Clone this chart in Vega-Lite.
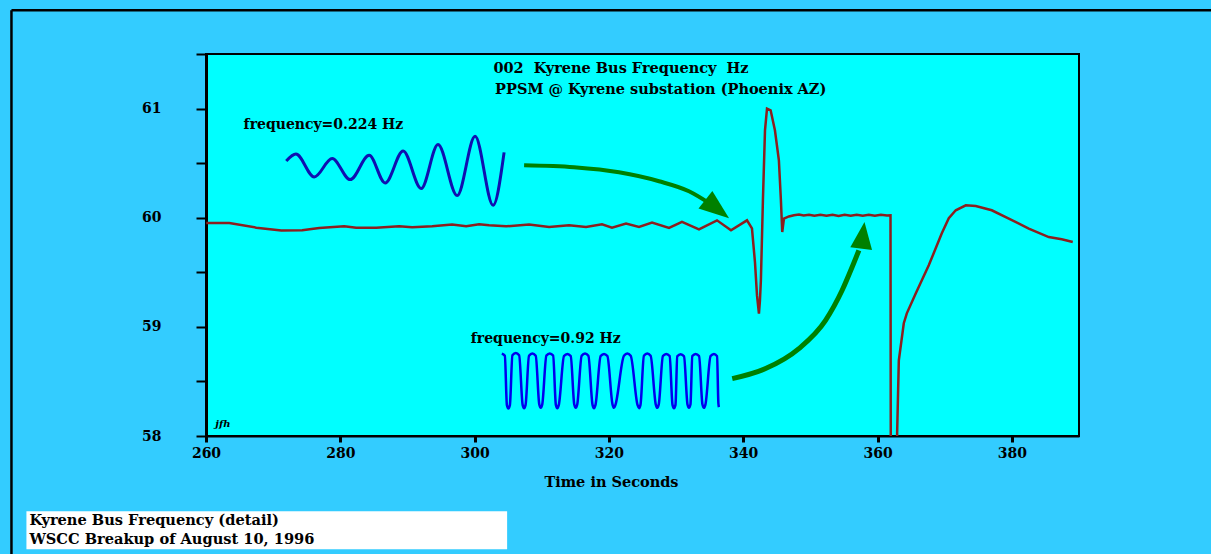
{
  "$schema": "https://vega.github.io/schema/vega-lite/v6.json",
  "width": 873,
  "height": 382,
  "autosize": {"type": "none"},
  "padding": {"left": 206, "top": 54, "right": 132, "bottom": 118},
  "background": "#33ccff",
  "config": {
    "view": {"fill": "#00ffff", "stroke": "#000000", "strokeWidth": 2},
    "font": "DejaVu Serif"
  },
  "datasets": {
    "frame": [
      {"x": 231.03, "y": 61.901, "x2": 231.03, "y2": 56.5},
      {"x": 231.03, "y": 61.901, "x2": 420, "y2": 61.901}
    ],
    "box": [
      {"x": 233.26, "y": 57.31, "x2": 304.84, "y2": 56.962}
    ],
    "trace": [
      {"x": 260.04, "y": 59.952}, {"x": 263.47, "y": 59.952}, {"x": 267.49, "y": 59.909},
      {"x": 271.21, "y": 59.882}, {"x": 274.33, "y": 59.885}, {"x": 276.86, "y": 59.906},
      {"x": 280.58, "y": 59.921}, {"x": 282.37, "y": 59.909}, {"x": 285.34, "y": 59.909},
      {"x": 288.76, "y": 59.921}, {"x": 290.70, "y": 59.912}, {"x": 293.68, "y": 59.921},
      {"x": 296.65, "y": 59.937}, {"x": 298.74, "y": 59.921}, {"x": 300.67, "y": 59.94},
      {"x": 302.16, "y": 59.931}, {"x": 304.69, "y": 59.921}, {"x": 308.11, "y": 59.937},
      {"x": 311.09, "y": 59.915}, {"x": 314.06, "y": 59.931}, {"x": 316.59, "y": 59.915},
      {"x": 318.97, "y": 59.94}, {"x": 320.46, "y": 59.909}, {"x": 322.55, "y": 59.946},
      {"x": 324.48, "y": 59.915}, {"x": 326.42, "y": 59.955}, {"x": 328.95, "y": 59.906},
      {"x": 330.88, "y": 59.961}, {"x": 333.41, "y": 59.894}, {"x": 336.09, "y": 59.976},
      {"x": 338.18, "y": 59.885}, {"x": 340.56, "y": 59.976}, {"x": 341.30, "y": 59.903},
      {"x": 341.75, "y": 59.591}, {"x": 342.05, "y": 59.288}, {"x": 342.34, "y": 59.121},
      {"x": 342.49, "y": 59.243}, {"x": 342.63, "y": 59.427}, {"x": 342.93, "y": 60.158},
      {"x": 343.24, "y": 60.8}, {"x": 343.54, "y": 61.0}, {"x": 344.08, "y": 60.984},
      {"x": 344.72, "y": 60.801}, {"x": 345.31, "y": 60.526}, {"x": 345.61, "y": 60.16},
      {"x": 345.81, "y": 59.869}, {"x": 346.06, "y": 59.992}, {"x": 346.8, "y": 60.012},
      {"x": 347.55, "y": 60.022}, {"x": 348.3, "y": 60.03}, {"x": 349.0, "y": 60.02},
      {"x": 349.8, "y": 60.028}, {"x": 350.6, "y": 60.019}, {"x": 351.5, "y": 60.027},
      {"x": 352.4, "y": 60.018}, {"x": 353.3, "y": 60.026}, {"x": 354.2, "y": 60.017},
      {"x": 355.1, "y": 60.026}, {"x": 356.0, "y": 60.018}, {"x": 356.9, "y": 60.027},
      {"x": 357.8, "y": 60.019}, {"x": 358.7, "y": 60.027}, {"x": 359.6, "y": 60.019},
      {"x": 360.5, "y": 60.026}, {"x": 361.4, "y": 60.02}, {"x": 361.93, "y": 60.022},
      {"x": 361.98, "y": 57.5}, {"x": 362.85, "y": 57.5}, {"x": 362.92, "y": 58.03},
      {"x": 363.17, "y": 58.694}, {"x": 363.91, "y": 59.033}, {"x": 364.36, "y": 59.124},
      {"x": 365.70, "y": 59.308}, {"x": 367.63, "y": 59.564}, {"x": 369.57, "y": 59.857},
      {"x": 370.61, "y": 59.995}, {"x": 371.65, "y": 60.068}, {"x": 373.14, "y": 60.114},
      {"x": 374.63, "y": 60.107}, {"x": 377.01, "y": 60.068}, {"x": 379.55, "y": 59.992},
      {"x": 382.52, "y": 59.9}, {"x": 385.50, "y": 59.823}, {"x": 387.43, "y": 59.802},
      {"x": 389.07, "y": 59.778}
    ],
    "wave1": [
      {"x": 271.95, "y": 60.519}, {"x": 273.39, "y": 60.583}, {"x": 276.12, "y": 60.373},
      {"x": 278.79, "y": 60.542}, {"x": 281.47, "y": 60.349}, {"x": 284.30, "y": 60.572},
      {"x": 286.68, "y": 60.318}, {"x": 289.36, "y": 60.611}, {"x": 292.04, "y": 60.267},
      {"x": 294.55, "y": 60.67}, {"x": 297.40, "y": 60.203}, {"x": 300.07, "y": 60.746},
      {"x": 302.75, "y": 60.114}, {"x": 304.39, "y": 60.599}
    ],
    "wave2": [
      {"x": 304.05, "y": 58.755}, {"x": 304.5, "y": 58.735},
      {"x": 304.81, "y": 58.281}, {"x": 305.03, "y": 58.251}, {"x": 305.25, "y": 58.281},
      {"x": 305.63, "y": 58.74}, {"x": 306.13, "y": 58.76}, {"x": 306.63, "y": 58.74},
      {"x": 307.15, "y": 58.285}, {"x": 307.37, "y": 58.255}, {"x": 307.59, "y": 58.285},
      {"x": 308.1, "y": 58.735}, {"x": 308.6, "y": 58.755}, {"x": 309.1, "y": 58.735},
      {"x": 309.63, "y": 58.288}, {"x": 309.85, "y": 58.258}, {"x": 310.07, "y": 58.288},
      {"x": 310.69, "y": 58.737}, {"x": 311.19, "y": 58.757}, {"x": 311.69, "y": 58.737},
      {"x": 312.1, "y": 58.285}, {"x": 312.32, "y": 58.255}, {"x": 312.54, "y": 58.285},
      {"x": 313.31, "y": 58.732}, {"x": 313.81, "y": 58.752}, {"x": 314.31, "y": 58.732},
      {"x": 314.84, "y": 58.288}, {"x": 315.06, "y": 58.258}, {"x": 315.28, "y": 58.288},
      {"x": 315.94, "y": 58.735}, {"x": 316.44, "y": 58.755}, {"x": 316.94, "y": 58.735},
      {"x": 317.56, "y": 58.285}, {"x": 317.78, "y": 58.255}, {"x": 318.0, "y": 58.285},
      {"x": 318.77, "y": 58.732}, {"x": 319.27, "y": 58.752}, {"x": 319.77, "y": 58.732},
      {"x": 320.54, "y": 58.288}, {"x": 320.76, "y": 58.258}, {"x": 320.98, "y": 58.288},
      {"x": 322.24, "y": 58.735}, {"x": 322.74, "y": 58.755}, {"x": 323.24, "y": 58.735},
      {"x": 324.26, "y": 58.285}, {"x": 324.48, "y": 58.255}, {"x": 324.7, "y": 58.285},
      {"x": 325.21, "y": 58.735}, {"x": 325.71, "y": 58.755}, {"x": 326.21, "y": 58.735},
      {"x": 326.98, "y": 58.288}, {"x": 327.2, "y": 58.258}, {"x": 327.42, "y": 58.288},
      {"x": 328.04, "y": 58.732}, {"x": 328.54, "y": 58.752}, {"x": 329.04, "y": 58.732},
      {"x": 329.47, "y": 58.285}, {"x": 329.69, "y": 58.255}, {"x": 329.91, "y": 58.285},
      {"x": 330.18, "y": 58.73}, {"x": 330.68, "y": 58.75}, {"x": 331.18, "y": 58.73},
      {"x": 331.7, "y": 58.288}, {"x": 331.92, "y": 58.258}, {"x": 332.14, "y": 58.288},
      {"x": 332.42, "y": 58.732}, {"x": 332.92, "y": 58.752}, {"x": 333.42, "y": 58.732},
      {"x": 333.93, "y": 58.288}, {"x": 334.15, "y": 58.258}, {"x": 334.37, "y": 58.288},
      {"x": 335.14, "y": 58.732}, {"x": 335.64, "y": 58.752}, {"x": 336.1, "y": 58.732},
      {"x": 336.3, "y": 58.3}, {"x": 336.38, "y": 58.265}
    ],
    "arrow1": [
      {"x": 307.37, "y": 60.48}, {"x": 314.81, "y": 60.462}, {"x": 321.5, "y": 60.416},
      {"x": 327.46, "y": 60.334}, {"x": 331.92, "y": 60.242}, {"x": 335.19, "y": 60.123}
    ],
    "arrow2": [
      {"x": 338.36, "y": 58.526}, {"x": 343.33, "y": 58.618}, {"x": 348.29, "y": 58.801},
      {"x": 352.26, "y": 59.06}, {"x": 354.73, "y": 59.335}, {"x": 356.22, "y": 59.548},
      {"x": 357.22, "y": 59.701}
    ],
    "head1": [{"x": 336.13, "y": 60.08}],
    "head2": [{"x": 357.81, "y": 59.839}],
    "titles": [
      {"x": 302.8, "y": 61.36, "text": "002\u00a0 Kyrene Bus Frequency\u00a0 Hz"},
      {"x": 303.05, "y": 61.168, "text": "PPSM @ Kyrene substation (Phoenix AZ)"}
    ],
    "freqs": [
      {"x": 265.6, "y": 60.847, "text": "frequency=0.224 Hz"},
      {"x": 299.43, "y": 58.892, "text": "frequency=0.92 Hz"}
    ],
    "footer": [
      {"x": 233.7, "y": 57.218, "text": "Kyrene Bus Frequency (detail)"},
      {"x": 233.7, "y": 57.044, "text": "WSCC Breakup of August 10, 1996"}
    ],
    "sig": [{"x": 261.38, "y": 58.107, "text": "jfh"}]
  },
  "layer": [
    {
      "data": {"name": "trace"},
      "mark": {"type": "line", "color": "#8b1f1f", "strokeWidth": 2.5, "clip": true},
      "encoding": {
        "x": {
          "field": "x", "type": "quantitative",
          "scale": {"domain": [260, 390], "nice": false, "zero": false},
          "axis": {
            "values": [260, 280, 300, 320, 340, 360, 380], "format": "d", "grid": false,
            "labelFlush": false,
            "domainColor": "#000000", "domainWidth": 2,
            "tickColor": "#000000", "tickWidth": 3, "tickSize": 6,
            "labelFont": "DejaVu Serif", "labelFontWeight": "bold", "labelFontSize": 14,
            "labelColor": "#000000", "labelPadding": 4,
            "title": "Time in Seconds", "titleFont": "DejaVu Serif", "titleFontWeight": "bold",
            "titleFontSize": 14.5, "titleColor": "#000000",
            "titleX": 405, "titleY": 46, "titleBaseline": "middle"
          }
        },
        "y": {
          "field": "y", "type": "quantitative",
          "scale": {"domain": [58, 61.5], "nice": false, "zero": false},
          "axis": {
            "values": [58, 58.5, 59, 59.5, 60, 60.5, 61, 61.5], "grid": false,
            "labelFlush": false,
            "labelExpr": "datum.value % 1 === 0 ? format(datum.value, 'd') : ''",
            "domainColor": "#000000", "domainWidth": 3,
            "tickColor": "#000000", "tickWidth": 2, "tickSize": 10,
            "labelFont": "DejaVu Serif", "labelFontWeight": "bold", "labelFontSize": 14,
            "labelColor": "#000000", "labelPadding": 35,
            "title": null
          }
        }
      }
    },
    {
      "data": {"name": "frame"},
      "mark": {"type": "rule", "color": "#000000", "strokeWidth": 2.5, "clip": false},
      "encoding": {
        "x": {"field": "x", "type": "quantitative"},
        "y": {"field": "y", "type": "quantitative"},
        "x2": {"field": "x2"},
        "y2": {"field": "y2"}
      }
    },
    {
      "data": {"name": "box"},
      "mark": {"type": "rect", "fill": "#ffffff", "clip": false},
      "encoding": {
        "x": {"field": "x", "type": "quantitative"},
        "y": {"field": "y", "type": "quantitative"},
        "x2": {"field": "x2"},
        "y2": {"field": "y2"}
      }
    },
    {
      "data": {"name": "wave1"},
      "mark": {"type": "line", "color": "#1010b0", "strokeWidth": 3, "interpolate": "monotone"},
      "encoding": {
        "x": {"field": "x", "type": "quantitative"},
        "y": {"field": "y", "type": "quantitative"}
      }
    },
    {
      "data": {"name": "wave2"},
      "mark": {"type": "line", "color": "#0000ee", "strokeWidth": 2.5, "interpolate": "monotone"},
      "encoding": {
        "x": {"field": "x", "type": "quantitative"},
        "y": {"field": "y", "type": "quantitative"}
      }
    },
    {
      "data": {"name": "arrow1"},
      "mark": {"type": "line", "color": "#008000", "strokeWidth": 4, "interpolate": "monotone"},
      "encoding": {
        "x": {"field": "x", "type": "quantitative"},
        "y": {"field": "y", "type": "quantitative"}
      }
    },
    {
      "data": {"name": "arrow2"},
      "mark": {"type": "line", "color": "#008000", "strokeWidth": 5, "interpolate": "monotone"},
      "encoding": {
        "x": {"field": "x", "type": "quantitative"},
        "y": {"field": "y", "type": "quantitative"}
      }
    },
    {
      "data": {"name": "head1"},
      "mark": {"type": "point", "shape": "M0,-1L0.75,1L-0.75,1Z", "filled": true, "fill": "#008000", "opacity": 1, "strokeWidth": 0, "size": 900, "angle": 128},
      "encoding": {
        "x": {"field": "x", "type": "quantitative"},
        "y": {"field": "y", "type": "quantitative"}
      }
    },
    {
      "data": {"name": "head2"},
      "mark": {"type": "point", "shape": "M0,-1L0.81,1L-0.81,1Z", "filled": true, "fill": "#008000", "opacity": 1, "strokeWidth": 0, "size": 729, "angle": 7},
      "encoding": {
        "x": {"field": "x", "type": "quantitative"},
        "y": {"field": "y", "type": "quantitative"}
      }
    },
    {
      "data": {"name": "titles"},
      "mark": {"type": "text", "align": "left", "baseline": "middle", "font": "DejaVu Serif", "fontWeight": "bold", "fontSize": 14.5, "color": "#000000"},
      "encoding": {
        "x": {"field": "x", "type": "quantitative"},
        "y": {"field": "y", "type": "quantitative"},
        "text": {"field": "text"}
      }
    },
    {
      "data": {"name": "freqs"},
      "mark": {"type": "text", "align": "left", "baseline": "middle", "font": "DejaVu Serif", "fontWeight": "bold", "fontSize": 14, "color": "#000000"},
      "encoding": {
        "x": {"field": "x", "type": "quantitative"},
        "y": {"field": "y", "type": "quantitative"},
        "text": {"field": "text"}
      }
    },
    {
      "data": {"name": "footer"},
      "mark": {"type": "text", "align": "left", "baseline": "middle", "font": "DejaVu Serif", "fontWeight": "bold", "fontSize": 14.6, "color": "#000000", "clip": false},
      "encoding": {
        "x": {"field": "x", "type": "quantitative"},
        "y": {"field": "y", "type": "quantitative"},
        "text": {"field": "text"}
      }
    },
    {
      "data": {"name": "sig"},
      "mark": {"type": "text", "align": "left", "baseline": "middle", "font": "DejaVu Serif", "fontWeight": "bold", "fontStyle": "italic", "fontSize": 10, "color": "#000000"},
      "encoding": {
        "x": {"field": "x", "type": "quantitative"},
        "y": {"field": "y", "type": "quantitative"},
        "text": {"field": "text"}
      }
    }
  ]
}
